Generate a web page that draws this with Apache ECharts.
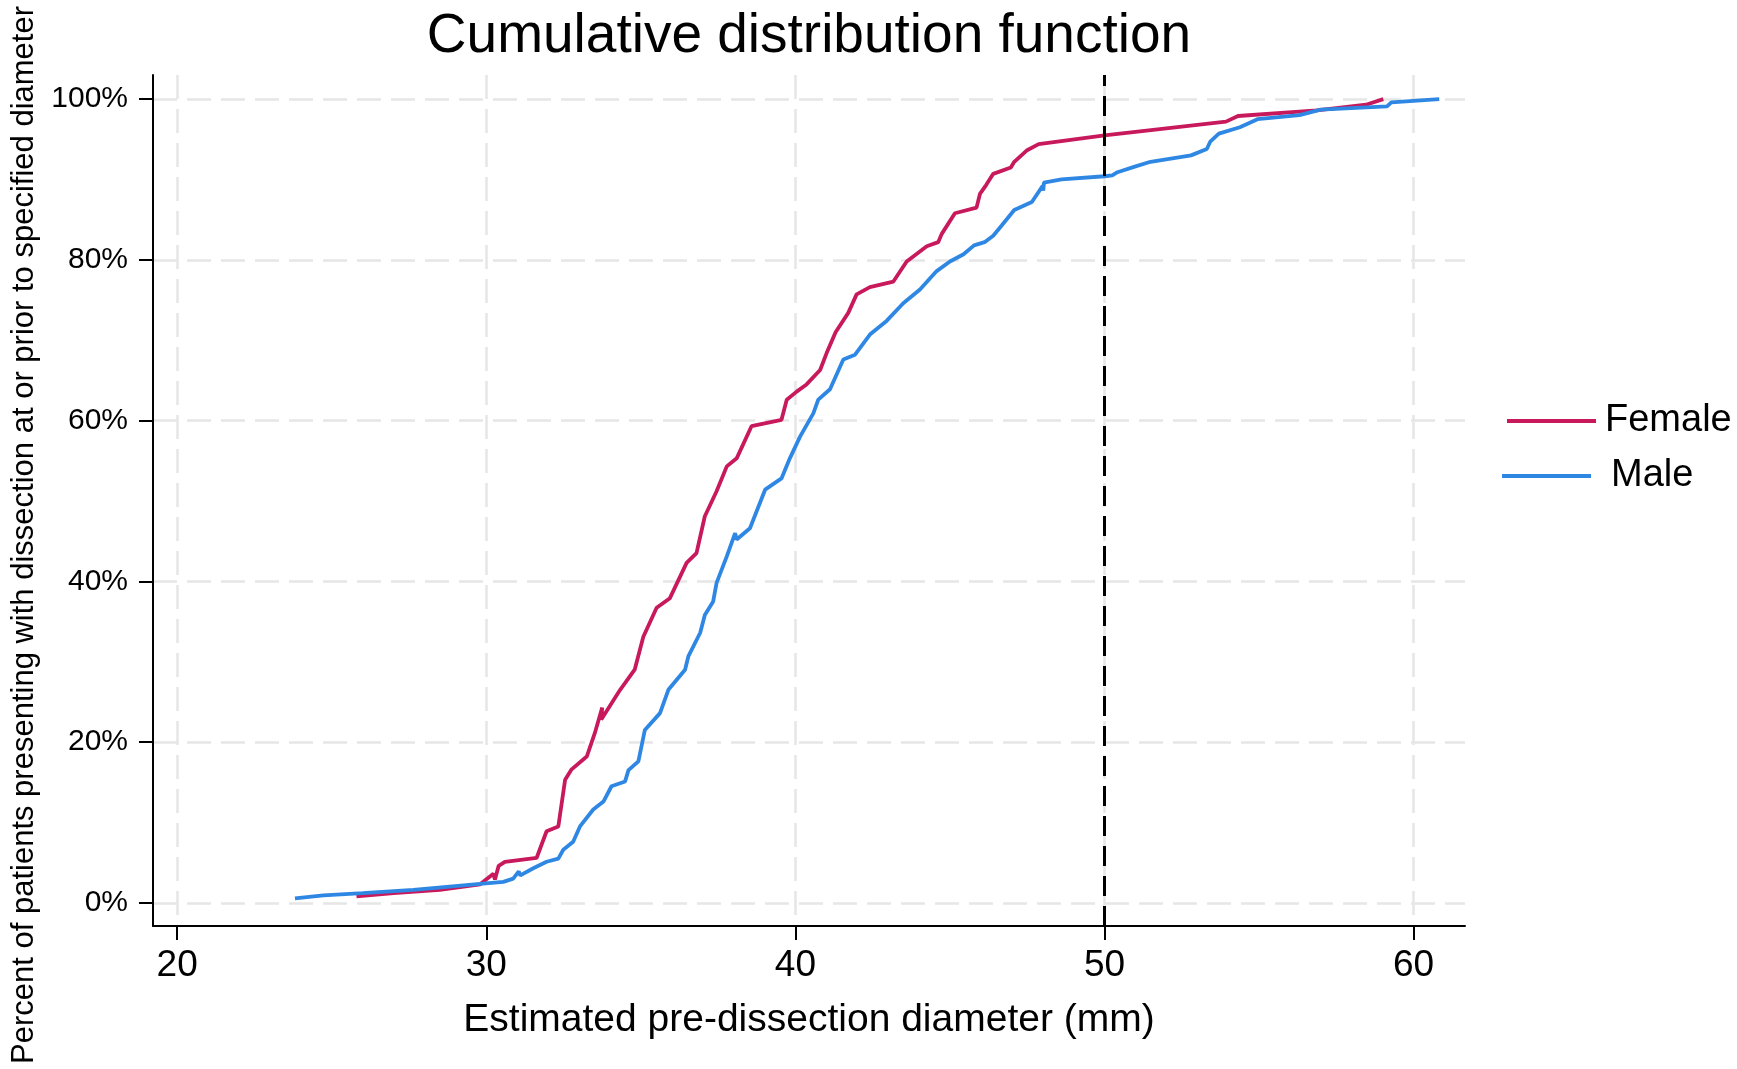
<!DOCTYPE html>
<html>
<head>
<meta charset="utf-8">
<script src="https://cdn.jsdelivr.net/npm/echarts@6/dist/echarts.min.js"></script>
<style>
  html, body { margin: 0; padding: 0; background: #fff; }
  #chart { width: 1737px; height: 1069px; }
</style>
</head>
<body>
<div id="chart"></div>
<script>
(()=>{
    "use strict";
    // values
    const xTicks = [20, 30, 40, 50, 60];
    const yTicks = [0, 20, 40, 60, 80, 100];
    const cutoff = 50;
    const femaleX = [25.8, 27.0, 28.5, 29.8, 30.23, 30.28, 30.4, 30.6, 31.63, 31.95, 32.33, 32.55, 32.76, 33.25, 33.51, 33.75, 33.72, 34.33, 34.8, 35.08, 35.51, 35.94, 36.48, 36.8, 37.07, 37.45, 37.78, 38.1, 38.58, 39.55, 39.72, 40.04, 40.36, 40.8, 41.01, 41.3, 41.71, 41.98, 42.41, 43.17, 43.6, 44.25, 44.62, 44.73, 45.16, 45.86, 45.97, 46.17, 46.4, 46.97, 47.08, 47.48, 47.87, 50.0, 53.93, 54.32, 56.87, 58.46, 59.02];
    const femaleY = [0.8, 1.2, 1.6, 2.3, 3.6, 2.9, 4.6, 5.1, 5.6, 8.9, 9.5, 15.3, 16.6, 18.2, 21.1, 24.3, 22.8, 26.5, 29.0, 33.1, 36.7, 37.9, 42.3, 43.5, 48.1, 51.2, 54.3, 55.3, 59.3, 60.1, 62.6, 63.6, 64.5, 66.3, 68.4, 71.0, 73.4, 75.7, 76.6, 77.3, 79.8, 81.7, 82.2, 83.2, 85.8, 86.5, 88.2, 89.3, 90.7, 91.5, 92.2, 93.6, 94.4, 95.5, 97.2, 97.9, 98.6, 99.3, 100];
    const maleX = [23.81, 24.73, 26.0, 27.64, 29.8, 30.55, 30.87, 31.05, 31.1, 31.52, 31.95, 32.33, 32.49, 32.81, 33.03, 33.46, 33.79, 34.05, 34.49, 34.6, 34.92, 35.13, 35.62, 35.89, 36.43, 36.54, 36.92, 37.07, 37.34, 37.45, 37.78, 38.05, 38.1, 38.53, 39.02, 39.55, 39.82, 40.15, 40.58, 40.74, 41.12, 41.55, 41.93, 42.41, 42.95, 43.49, 44.03, 44.57, 45.0, 45.44, 45.78, 46.12, 46.4, 46.68, 47.08, 47.65, 48.0, 48.02, 48.04, 48.61, 50.0, 50.25, 50.42, 50.98, 51.49, 52.8, 53.31, 53.42, 53.7, 54.38, 54.95, 56.31, 56.99, 59.14, 59.28, 60.83];
    const maleY = [0.56, 0.93, 1.2, 1.6, 2.34, 2.6, 3.0, 3.9, 3.4, 4.3, 5.1, 5.5, 6.6, 7.6, 9.5, 11.6, 12.6, 14.5, 15.1, 16.5, 17.6, 21.5, 23.6, 26.5, 29.0, 30.7, 33.6, 35.8, 37.5, 39.8, 43.1, 46.0, 45.2, 46.6, 51.4, 52.8, 55.3, 58.0, 60.9, 62.6, 63.9, 67.6, 68.2, 70.7, 72.4, 74.6, 76.3, 78.6, 79.8, 80.7, 81.8, 82.2, 83.0, 84.3, 86.2, 87.2, 89.2, 88.6, 89.6, 90.0, 90.4, 90.5, 90.9, 91.6, 92.2, 93.0, 93.8, 94.7, 95.7, 96.5, 97.5, 98.0, 98.7, 99.1, 99.6, 100];

    const pair = (xs, ys) => xs.map((x, i) => [x, ys[i]]);
    const font = "'Liberation Sans', Arial, Helvetica, sans-serif";
    const femaleColor = "#c8195c";
    const maleColor = "#2f87e4";
    const gridLine = {show: true, lineStyle: {color: "#e6e6e6", width: 2.5, type: [24, 10]}};
    const legendBase = {orient: "vertical", itemWidth: 89, itemHeight: 4, icon: "rect"};

    let _chart = echarts.init(document.getElementById("chart"));
    let _chartOption = {
    "animation": false,
    "backgroundColor": "#ffffff",
    "textStyle": {"fontFamily": font},
    "grid": {"left": 153, "top": 75, "width": 1312, "height": 851},
    "graphic": [
        {"type": "text", "x": 809, "y": 37, "style": {"text": "Cumulative distribution function", "font": "55px " + font, "fill": "#000", "textAlign": "center", "textVerticalAlign": "middle"}},
        {"type": "text", "x": 24, "y": 535, "rotation": Math.PI / 2, "style": {"text": "Percent of patients presenting with dissection at or prior to specified diameter", "font": "31px " + font, "fill": "#000", "textAlign": "center", "textVerticalAlign": "middle"}}
    ],
    "legend": [
        Object.assign({}, legendBase, {"data": ["Female"], "left": 1502, "top": 397,
            "textStyle": {"fontSize": 38, "color": "#000", "fontFamily": font, "padding": [0, 0, 0, 4]}}),
        Object.assign({}, legendBase, {"data": ["Male"], "left": 1497, "top": 452,
            "textStyle": {"fontSize": 38, "color": "#000", "fontFamily": font, "padding": [0, 0, 0, 15]}})
    ],
    "xAxis": {"type": "value", "min": 19.217, "max": 61.663, "minInterval": 10, "maxInterval": 10,
        "name": "Estimated pre-dissection diameter (mm)", "nameLocation": "middle", "nameGap": 75,
        "nameTextStyle": {"fontSize": 39, "color": "#000", "fontFamily": font},
        "axisLine": {"show": true, "onZero": false, "lineStyle": {"color": "#000", "width": 2}},
        "axisTick": {"show": true, "length": 14, "customValues": xTicks, "lineStyle": {"color": "#000", "width": 2}},
        "axisLabel": {"show": true, "margin": 21, "fontSize": 37, "color": "#000", "customValues": xTicks,
            "formatter": v => (v % 10 === 0 ? String(v) : "")},
        "splitLine": gridLine},
    "yAxis": {"type": "value", "min": -2.89, "max": 103.0, "minInterval": 20, "maxInterval": 20,
        "axisLine": {"show": true, "onZero": false, "lineStyle": {"color": "#000", "width": 2}},
        "axisTick": {"show": true, "length": 14, "customValues": yTicks, "lineStyle": {"color": "#000", "width": 2}},
        "axisLabel": {"show": true, "margin": 25, "fontSize": 30, "color": "#000", "customValues": yTicks,
            "formatter": v => (v % 20 === 0 ? v + "%" : "")},
        "splitLine": gridLine},
    "series": [
        {"type": "line", "name": "Female", "data": pair(femaleX, femaleY), "symbol": "none", "smooth": false,
         "color": femaleColor, "itemStyle": {"color": femaleColor}, "lineStyle": {"color": femaleColor, "width": 3.8},
         "markLine": {"silent": true, "symbol": ["none", "none"], "label": {"show": false},
            "lineStyle": {"color": "#000", "width": 3, "type": [20, 10]},
            "data": [{"xAxis": cutoff}]}},
        {"type": "line", "name": "Male", "data": pair(maleX, maleY), "symbol": "none", "smooth": false,
         "color": maleColor, "itemStyle": {"color": maleColor}, "lineStyle": {"color": maleColor, "width": 3.8}}
    ]};
    _chart.setOption(_chartOption);
})();
</script>
</body>
</html>
